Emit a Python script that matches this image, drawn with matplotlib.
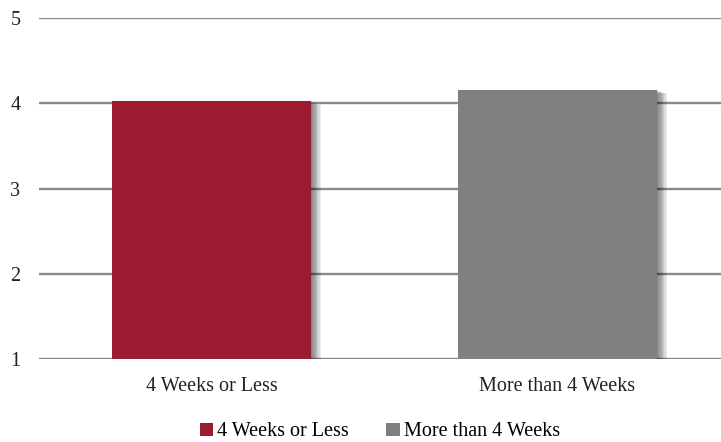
import matplotlib
matplotlib.use("Agg")
import matplotlib.pyplot as plt
from matplotlib import patheffects as pe
from matplotlib.patches import Patch

categories = ["4 Weeks or Less", "More than 4 Weeks"]
values = [4.03, 4.16]
colors = ["#9B1B31", "#808080"]
yticks = [1, 2, 3, 4, 5]

plt.rcParams["font.family"] = ["Liberation Serif", "DejaVu Serif"]

W, H = 721, 442
fig = plt.figure(figsize=(W / 100, H / 100), dpi=100)
ax = fig.add_axes([38.5 / W, (H - 359) / H, 692 / W, (359 - 18) / H])

base = yticks[0]
bars = ax.bar(range(len(categories)), [v - base for v in values], bottom=base,
              width=0.575, color=colors, zorder=3)

# soft drop shadow to the right and below each bar
shadow = [pe.SimplePatchShadow(offset=(i * 0.9, -i * 0.35), shadow_rgbFace="black", alpha=0.075)
          for i in range(1, 9)]
for b in bars:
    b.set_path_effects(shadow + [pe.Normal()])

ax.set_xlim(-0.5, len(categories) - 0.5)
ax.set_ylim(yticks[0], yticks[-1])
ax.set_yticks(yticks)
ax.set_xticks(range(len(categories)))
ax.set_xticklabels(categories)
ax.yaxis.grid(True, color="#8a8a8a", linewidth=1.7, zorder=1)
ax.set_axisbelow(True)
for s in ax.spines.values():
    s.set_visible(False)
ax.tick_params(axis="both", length=0, labelsize=14.5, colors="#222222")
ax.tick_params(axis="y", pad=13)
ax.tick_params(axis="x", pad=13)

handles = [Patch(facecolor=c, edgecolor="none") for c in colors]
fig.legend(handles, categories, loc="center", bbox_to_anchor=(380 / W, 1 - 432 / H),
           ncol=2, frameon=False, fontsize=14.5, handlelength=0.65, handleheight=0.65,
           handletextpad=0.2, columnspacing=1.85)

fig.savefig("out.png", dpi=100)
